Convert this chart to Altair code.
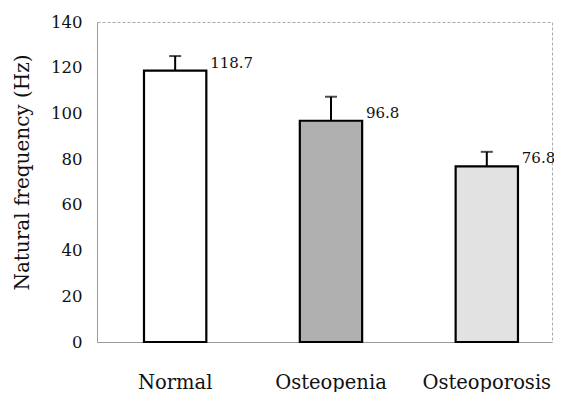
import altair as alt
import pandas as pd

categories = ["Normal", "Osteopenia", "Osteoporosis"]
means = [118.7, 96.8, 76.8]
errors = [6.4, 10.5, 6.4]
labels = ["118.7", "96.8", "76.8"]
fills = ["#ffffff", "#b0b0b0", "#e2e2e2"]

df = pd.DataFrame({
    "group": categories,
    "mean": means,
    "upper": [m + e for m, e in zip(means, errors)],
    "label": labels,
    "fill": fills,
})

FONT = "DejaVu Serif"

xs = alt.X("group:N", sort=categories, title=None,
           scale=alt.Scale(paddingInner=0.6, paddingOuter=0.26, align=0.58))
ys = alt.Y("mean:Q", title="Natural frequency (Hz)",
           scale=alt.Scale(domain=[0, 140], nice=False),
           axis=alt.Axis(values=[0, 20, 40, 60, 80, 100, 120, 140]))

base = alt.Chart(df)

bars = base.mark_bar(stroke="black", strokeWidth=2.2).encode(
    x=xs, y=ys, fill=alt.Fill("fill:N", scale=None)
)

err = base.mark_rule(color="black", strokeWidth=2).encode(
    x=xs, y=ys, y2="upper:Q"
)

caps = base.mark_tick(color="black", thickness=2, size=12, orient="horizontal").encode(
    x=xs, y=alt.Y("upper:Q")
)

text = base.mark_text(align="left", baseline="middle", dx=35, dy=-8,
                      font=FONT, fontSize=15, color="#111").encode(
    x=xs, y=ys, text="label:N"
)

chart = alt.layer(bars, err, caps, text).properties(
    width=455, height=320,
    autosize=alt.AutoSizeParams(type="none"),
    padding={"left": 89, "top": 14, "right": 2, "bottom": 50},
).configure_view(
    stroke="#aaa", strokeWidth=1, strokeDash=[3, 2]
).configure_axis(
    grid=False, ticks=False, domainColor="#999", domainWidth=1,
    labelColor="#111", titleColor="#111", titleFontWeight="normal",
    labelFont=FONT, titleFont=FONT
).configure_axisX(
    labelAngle=0, labelFontSize=19.5, labelPadding=31
).configure_axisY(
    labelFontSize=16.5, labelPadding=15,
    titleFontSize=20, titlePadding=18, titleY=150
)

chart.save("out.html", embed_options={"renderer": "svg", "actions": False})
